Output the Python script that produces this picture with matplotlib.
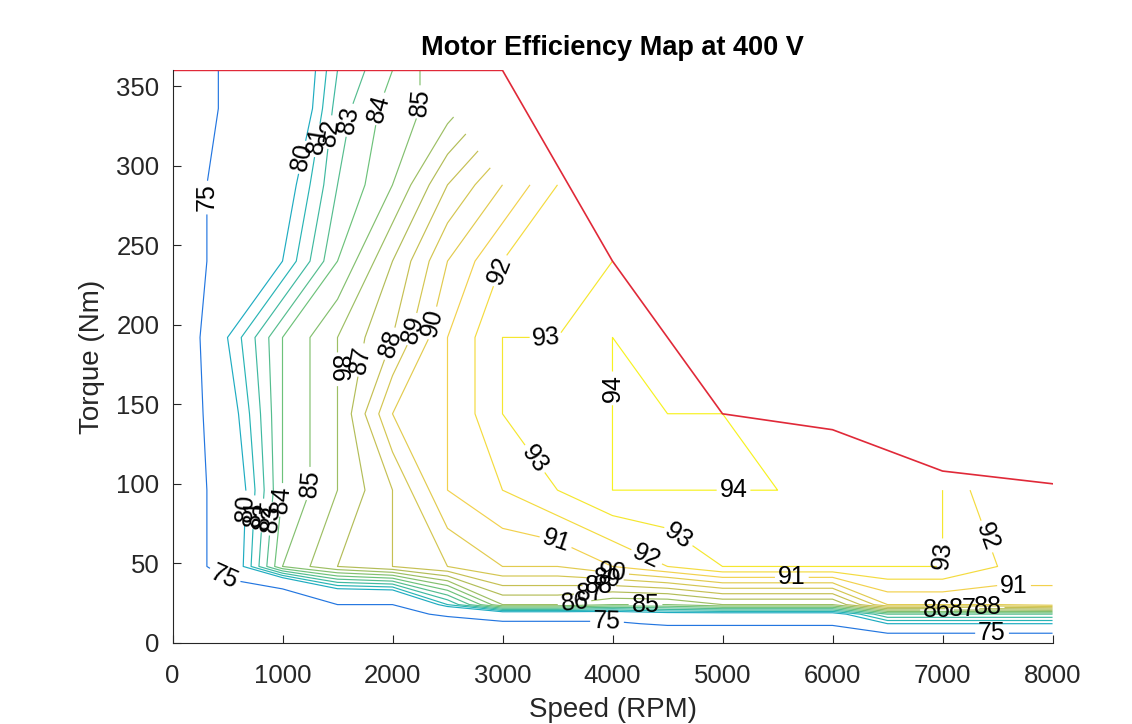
import numpy as np
import matplotlib.pyplot as plt
from matplotlib.colors import LinearSegmentedColormap, Normalize

plt.rcParams['font.family'] = ['Liberation Sans', 'DejaVu Sans']

# efficiency table (%), rows = torque, cols = speed
speed = np.arange(0, 8001, 500)
torque = np.array([0, 12, 18, 24, 48, 96, 144, 192, 240, 288, 336, 360])
nan = np.nan
eff = np.array([
    [60, 60, 58, 60, 62, 63, 64, 65, 65, 65, 65, 65, 65, 70, 70, 70, 70],
    [65, 66, 62, 70, 72, 72, 74, 74, 74, 76, 76, 76, 76, 80, 80, 80, 80],
    [66, 67, 65, 72, 73, 76, 78, 78, 78, 79, 79, 79, 79, 83, 83, 83, 83],
    [68, 69, 68, 75, 75, 81, 86, 86, 85, 85, 86, 86, 86, 90, 90, 90, 90.5],
    [70, 78, 85, 87, 88, 89, 90, 90, 91, 92, 93, 93, 93, 93, 93, 92, 91.5],
    [70, 78, 84, 86, 88, 91, 92, 93, 94, 94, 94, 94, 93, 93, 93, 91, 91],
    [70, 79, 84, 86, 90, 91, 93, 93, 94, 94, 94, 93, nan, nan, nan, nan, nan],
    [70, 80, 84, 86, 88, 91, 93, 93, 94, 93, nan, nan, nan, nan, nan, nan, nan],
    [70, 78, 80, 84, 87, 90, 92, 92, 93, nan, nan, nan, nan, nan, nan, nan, nan],
    [70, 78, 79, 83, 85, 88, 90, 92, nan, nan, nan, nan, nan, nan, nan, nan, nan],
    [70, 76, 77, 82.5, 84.5, 85.5, nan, nan, nan, nan, nan, nan, nan, nan, nan, nan, nan],
    [70, 76, 77, 82, 84, 86, nan, nan, nan, nan, nan, nan, nan, nan, nan, nan, nan],
])

# max torque envelope
max_speed = [0, 3000, 4000, 5000, 6000, 7000, 8000]
max_torque = [360, 360, 240, 144, 134, 108, 100]

levels = [75, 80, 81, 82, 83, 84, 85, 86, 87, 88, 89, 90, 91, 92, 93, 94]

# where the labels sit (near which point of each level)
label_spots = {
    75: [(300, 280), (460, 40), (3950, 8), (7450, 5)],
    80: [(700, 85), (1200, 305)],
    81: [(760, 82), (1310, 316)],
    82: [(830, 80), (1450, 321)],
    83: [(900, 78), (1580, 329)],
    84: [(970, 90), (1800, 337)],
    85: [(1250, 100), (2150, 340), (4300, 23)],
    86: [(1460, 172), (3650, 28), (6950, 20)],
    87: [(1700, 178), (3800, 33), (7180, 21)],
    88: [(1980, 188), (3880, 38), (7410, 22)],
    89: [(2190, 197), (3950, 42)],
    90: [(2370, 201), (4000, 46)],
    91: [(3490, 65), (5630, 40), (7650, 36)],
    92: [(2980, 234), (4310, 54), (7370, 66)],
    93: [(3400, 192), (3280, 115), (4590, 66), (7000, 55)],
    94: [(4000, 160), (5100, 96)],
}

parula = LinearSegmentedColormap.from_list('parula', [
    (0.00, (0.208, 0.166, 0.529)),
    (0.14, (0.15, 0.40, 0.90)),
    (0.29, (0.12, 0.55, 0.85)),
    (0.43, (0.12, 0.70, 0.74)),
    (0.57, (0.42, 0.76, 0.48)),
    (0.71, (0.74, 0.74, 0.33)),
    (0.86, (0.95, 0.82, 0.30)),
    (1.00, (0.97, 0.97, 0.10)),
])

fig = plt.figure(figsize=(11.32, 7.24), dpi=100)
ax = fig.add_axes([0.1524, 0.1122, 0.7774, 0.7906])

lv = np.array(levels) - 0.001
cs = ax.contour(speed, torque, np.ma.masked_invalid(eff), levels=lv,
                cmap=parula, norm=Normalize(70, 94.5), linewidths=0.85)
# set up label style for all levels, then place each label on its own level
cs.clabel(levels=cs.levels, manual=[], inline=True, fontsize=18, colors='k',
          fmt=lambda v: f"{v:.0f}")
for i, lev in enumerate(levels):
    cs.labelIndiceList = [i]
    for x, y in label_spots[lev]:
        cs.add_label_near(x, y, inline=True, inline_spacing=3)

ax.plot(max_speed, max_torque, color=(0.88, 0.16, 0.22), lw=1.2)

ax.set_xlim(0, 8000)
ax.set_ylim(0, 360)
ax.set_xticks(np.arange(0, 8001, 1000))
ax.set_yticks(np.arange(0, 351, 50))
ax.spines['top'].set_visible(False)
ax.spines['right'].set_visible(False)
for s in ['left', 'bottom']:
    ax.spines[s].set_color((0.15, 0.15, 0.15))
    ax.spines[s].set_linewidth(0.8)
ax.tick_params(direction='in', length=6, width=0.8, colors=(0.15, 0.15, 0.15),
               labelsize=18.5)
ax.tick_params(axis='x', pad=15)
ax.tick_params(axis='y', pad=9.5)
ax.set_xlabel('Speed (RPM)', fontsize=20, color=(0.15, 0.15, 0.15), labelpad=7)
ax.set_ylabel('Torque (Nm)', fontsize=20, color=(0.15, 0.15, 0.15), labelpad=8)
ax.set_title('Motor Efficiency Map at 400 V', fontsize=19.5, fontweight='bold',
             pad=11)

fig.savefig('out.png', dpi=100)
